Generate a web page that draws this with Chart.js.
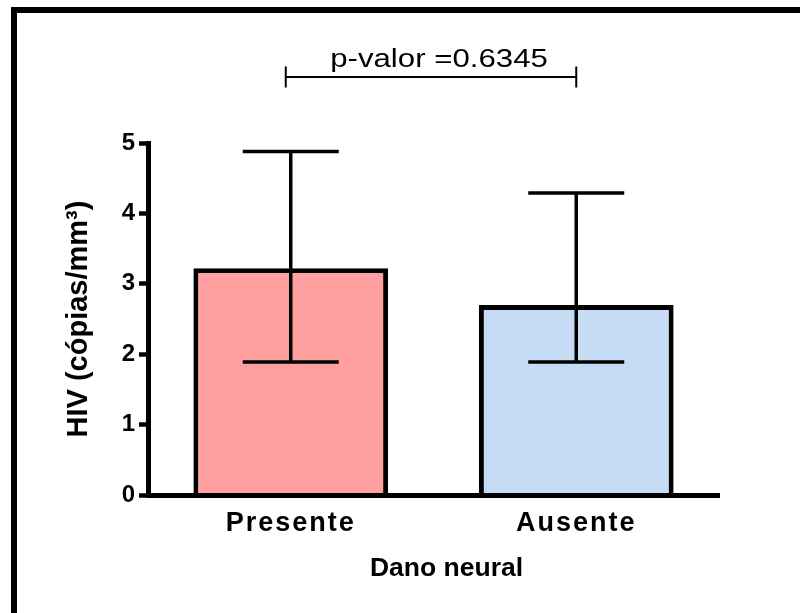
<!DOCTYPE html>
<html><head><meta charset="utf-8">
<script src="https://cdn.jsdelivr.net/npm/chart.js@4/dist/chart.umd.min.js"></script>
<style>html,body{margin:0;padding:0;background:#fff}#wrap{width:800px;height:613px}</style>
</head><body><div id="wrap"><canvas id="c" width="800" height="613"></canvas></div>
<script>
const categories = ['Presente', 'Ausente'];
const means = [3.22, 2.70];
const errLow = [1.89, 1.89];
const errHigh = [4.88, 4.29];
const yTicks = [0, 1, 2, 3, 4, 5];
const xTitle = 'Dano neural';
const yTitle = 'HIV (cópias/mm³)';
const pText = 'p-valor =0.6345';
const barColors = ['#FF9F9F', '#C6DCF5'];

const FONT = "'Liberation Sans', Arial, Helvetica, sans-serif";
Chart.defaults.font.family = FONT;
Chart.defaults.color = '#000';

const extras = {
  id: 'extras',
  beforeDraw(chart) {
    const ctx = chart.ctx;
    ctx.save(); ctx.fillStyle = '#fff'; ctx.fillRect(0, 0, chart.width, chart.height); ctx.restore();
  },
  afterDatasetsDraw(chart) {
    const ctx = chart.ctx, xs = chart.scales.x, ys = chart.scales.y;
    ctx.save();
    ctx.strokeStyle = '#000';
    ctx.lineCap = 'butt';
    categories.forEach((c, i) => {
      const x = xs.getPixelForValue(i);
      const yl = ys.getPixelForValue(errLow[i]);
      const yh = ys.getPixelForValue(errHigh[i]);
      ctx.lineWidth = 3.5;
      ctx.beginPath(); ctx.moveTo(x, yl); ctx.lineTo(x, yh); ctx.stroke();
      ctx.beginPath();
      ctx.moveTo(x - 48, yl); ctx.lineTo(x + 48, yl);
      ctx.moveTo(x - 48, yh); ctx.lineTo(x + 48, yh);
      ctx.stroke();
    });
    ctx.restore();
    ctx.letterSpacing = '2px';
  },
  afterDraw(chart) {
    const ctx = chart.ctx, xs = chart.scales.x, ca = chart.chartArea;
    ctx.letterSpacing = '0px';
    ctx.save();
    ctx.fillStyle = '#000';
    // x title
    ctx.font = 'bold 26.5px ' + FONT;
    ctx.textAlign = 'center';
    ctx.textBaseline = 'middle';
    ctx.fillText(xTitle, (ca.left + ca.right) / 2 + 13, 569);
    // bracket
    const x1 = xs.getPixelForValue(0) - 5, x2 = xs.getPixelForValue(1);
    const by = ca.top - 66;
    ctx.strokeStyle = '#000';
    ctx.lineWidth = 2;
    ctx.beginPath();
    ctx.moveTo(x1, by); ctx.lineTo(x2, by);
    ctx.moveTo(x1, by - 10.5); ctx.lineTo(x1, by + 10.5);
    ctx.moveTo(x2, by - 10.5); ctx.lineTo(x2, by + 10.5);
    ctx.stroke();
    // p value text
    ctx.save();
    ctx.translate((x1 + x2) / 2 + 8, ca.top - 76);
    ctx.scale(1.2, 1);
    ctx.font = '26px ' + FONT;
    ctx.textBaseline = 'alphabetic';
    ctx.fillText(pText, 0, 0);
    ctx.restore();
    // frame
    ctx.fillRect(11, 7, 789, 6);
    ctx.fillRect(11, 7, 6, 606);
    ctx.restore();
  }
};

new Chart(document.getElementById('c'), {
  type: 'bar',
  data: {
    labels: categories,
    datasets: [{
      data: means,
      backgroundColor: barColors,
      borderColor: '#000',
      borderWidth: 5,
      borderSkipped: 'start',
      barPercentage: 1,
      categoryPercentage: 0.682
    }]
  },
  options: {
    responsive: false,
    animation: false,
    layout: { padding: { left: 0, top: 143, right: 81, bottom: 0 } },
    plugins: { legend: { display: false }, tooltip: { enabled: false } },
    scales: {
      x: {
        grid: { display: false, drawTicks: false },
        border: { display: true, color: '#000', width: 5, z: 1 },
        ticks: { z: 1, color: '#000', padding: 12, font: { size: 27, weight: 'bold' } },
        afterFit: s => { s.height = 118; }
      },
      y: {
        min: 0, max: 5,
        afterBuildTicks: s => { s.ticks = yTicks.map(v => ({ value: v })); },
        grid: { display: true, drawOnChartArea: false, drawTicks: true, tickLength: 9, tickWidth: 4.5, tickColor: '#000' },
        border: { display: true, color: '#000', width: 5, z: 1 },
        ticks: { color: '#000', padding: 4, font: { size: 24, weight: 'bold' } },
        title: { display: true, text: yTitle, color: '#000', font: { size: 29, weight: 'bold' }, padding: { top: 62, bottom: 0 } },
        afterFit: s => { s.width = 148; }
      }
    }
  },
  plugins: [extras]
});
</script>
</body></html>
